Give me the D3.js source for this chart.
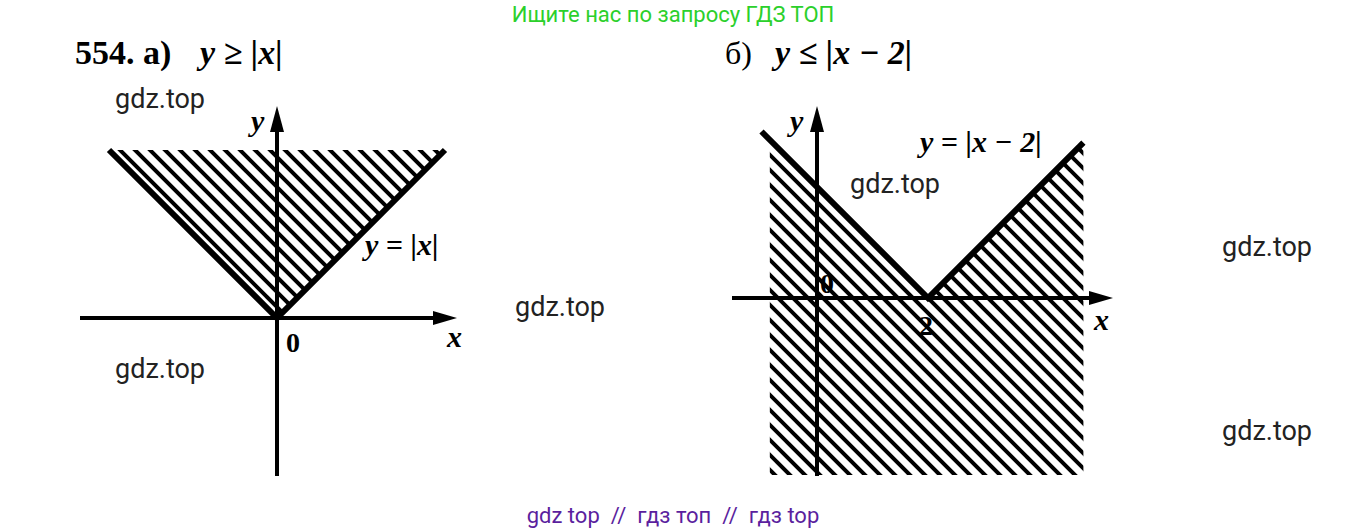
<!DOCTYPE html><html><head><meta charset="utf-8"><script src="https://cdn.jsdelivr.net/npm/d3@7"></script>
<style>body{margin:0;background:#fff}</style></head><body><svg id="c" width="1347" height="532"></svg>
<script>
const leftV=[[-4,4],[0,0],[4,4]];
const rightV=[[-1,3],[2,0],[4.8,2.8]];
const watermarks=[[115,108],[515,316],[115,378],[850,193],[1222,256],[1222,440]];
const svg=d3.select("#c");
const serif="'Liberation Serif','Times New Roman',serif";
const xL=d3.scaleLinear().domain([0,1]).range([277,319]);
const yL=d3.scaleLinear().domain([0,1]).range([318,276]);
const xR=d3.scaleLinear().domain([0,1]).range([817,872.5]);
const yR=d3.scaleLinear().domain([0,1]).range([298,242.5]);
const defs=svg.append("defs");
function hatch(id,pts,step){
  const cp=defs.append("clipPath").attr("id",id);
  cp.append("polygon").attr("points",pts.map(p=>p.join(",")).join(" "));
  const g=svg.append("g").attr("clip-path",`url(#${id})`);
  for(let k=-600;k<1400;k+=step){
    g.append("line").attr("x1",k).attr("y1",0).attr("x2",k+600).attr("y2",600)
     .attr("stroke","#000").attr("stroke-width",4);
  }
}
hatch("hl",[[xL(-4),yL(4)],[xL(0),yL(0)],[xL(4),yL(4)]],15);
hatch("hr",[[xR(-0.85),yR(2.85)],[xR(2),yR(0)],[xR(4.8),yR(2.8)],[xR(4.8),475],[xR(-0.85),475]],15);
function axes(xs,ys,x0,x1,ytop,ybot){
  svg.append("line").attr("x1",x0).attr("x2",x1-12).attr("y1",ys(0)).attr("y2",ys(0)).attr("stroke","#000").attr("stroke-width",4);
  svg.append("path").attr("d",`M${x1},${ys(0)} L${x1-24},${ys(0)-7} L${x1-24},${ys(0)+7}Z`);
  svg.append("line").attr("x1",xs(0)).attr("x2",xs(0)).attr("y1",ybot).attr("y2",ytop+12).attr("stroke","#000").attr("stroke-width",4);
  svg.append("path").attr("d",`M${xs(0)},${ytop} L${xs(0)-7},${ytop+26} L${xs(0)+7},${ytop+26}Z`);
}
axes(xL,yL,80,457,106,476);
axes(xR,yR,732,1113,106,476);
const line=(xs,ys)=>d3.line().x(d=>xs(d[0])).y(d=>ys(d[1]));
svg.append("path").attr("d",line(xL,yL)(leftV)).attr("fill","none").attr("stroke","#000").attr("stroke-width",6);
svg.append("path").attr("d",line(xR,yR)(rightV)).attr("fill","none").attr("stroke","#000").attr("stroke-width",6);
function t(x,y,s,size,opts={}){
  return svg.append("text").attr("x",x).attr("y",y).text(s).attr("font-family",opts.f||serif)
   .attr("font-size",size).attr("font-style",opts.i?"italic":null).attr("font-weight",opts.b?"bold":null)
   .attr("fill",opts.c||"#000").attr("text-anchor",opts.a||"start");
}
t(75,64,"554. а)",34,{b:1});
t(200,64,"y ≥ |x|",34,{i:1,b:1});
t(725,64,"б)",32,{});
t(775,64,"y ≤ |x − 2|",34,{i:1,b:1});
t(365,255,"y = |x|",30,{i:1,b:1});
t(920,152,"y = |x − 2|",30,{i:1,b:1});
t(286,352,"0",28,{b:1});
t(447,347,"x",30,{i:1,b:1});
t(251,131,"y",30,{i:1,b:1});
t(820,293,"0",28,{b:1});
t(919,335,"2",28,{b:1});
t(1094,330,"x",30,{i:1,b:1});
t(790,131,"y",30,{i:1,b:1});
t(673,22,"Ищите нас по запросу ГДЗ ТОП",22,{f:"Roboto",c:"#2bd02b",a:"middle"});
t(673,523,"gdz top  //  гдз топ  //  гдз top",22,{f:"Roboto",c:"#5b1f9e",a:"middle"}).style("white-space","pre");
watermarks.forEach(w=>t(w[0],w[1],"gdz.top",27,{f:"Roboto",c:"#222"}));
</script></body></html>
